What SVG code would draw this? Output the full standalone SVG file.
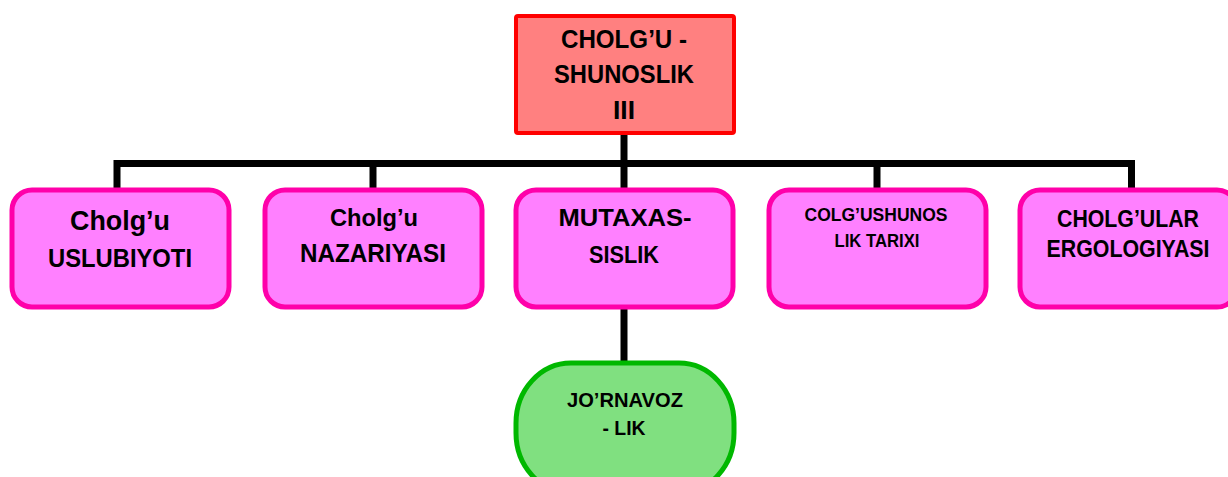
<svg xmlns="http://www.w3.org/2000/svg" width="1228" height="477" viewBox="0 0 1228 477">
<style>
.t{font-family:"Liberation Sans",Arial,sans-serif;font-weight:bold;fill:#000;text-anchor:middle}
.pink{fill:#FF80FF;stroke:#FF00AA;stroke-width:5}
.conn{stroke:#000;stroke-width:7;fill:none;stroke-linecap:butt}
</style>
<rect width="1228" height="477" fill="#fff"/>
<g id="connectors">
<path class="conn" d="M624,135 V189"/>
<path class="conn" d="M117,189 V163.5 H1131.5 V189"/>
<path class="conn" d="M373,163.5 V189"/>
<path class="conn" d="M877,163.5 V189"/>
<path class="conn" d="M624,309 V362"/>
</g>
<g id="root">
<rect x="516" y="16" width="218" height="117" rx="2" fill="#FF8080" stroke="#FF0000" stroke-width="4"/>
<text class="t" x="624" y="48" font-size="26" textLength="126" lengthAdjust="spacingAndGlyphs">CHOLG’U -</text>
<text class="t" x="624" y="83" font-size="26" textLength="140" lengthAdjust="spacingAndGlyphs">SHUNOSLIK</text>
<text class="t" x="624" y="119" font-size="26" textLength="22" lengthAdjust="spacingAndGlyphs">III</text>
</g>
<g id="n1">
<rect class="pink" x="12" y="190" width="217" height="117" rx="20"/>
<text class="t" x="120" y="230" font-size="27" textLength="100" lengthAdjust="spacingAndGlyphs">Cholg’u</text>
<text class="t" x="120" y="267" font-size="26" textLength="144" lengthAdjust="spacingAndGlyphs">USLUBIYOTI</text>
</g>
<g id="n2">
<rect class="pink" x="265" y="190" width="217" height="117" rx="20"/>
<text class="t" x="374" y="226" font-size="24" textLength="88" lengthAdjust="spacingAndGlyphs">Cholg’u</text>
<text class="t" x="373" y="262" font-size="25" textLength="146" lengthAdjust="spacingAndGlyphs">NAZARIYASI</text>
</g>
<g id="n3">
<rect class="pink" x="516" y="190" width="217" height="117" rx="20"/>
<text class="t" x="625" y="226" font-size="24" textLength="133" lengthAdjust="spacingAndGlyphs">MUTAXAS-</text>
<text class="t" x="624" y="263" font-size="24" textLength="70" lengthAdjust="spacingAndGlyphs">SISLIK</text>
</g>
<g id="n4">
<rect class="pink" x="769" y="190" width="217" height="117" rx="20"/>
<text class="t" x="876" y="221" font-size="18" textLength="143" lengthAdjust="spacingAndGlyphs">COLG’USHUNOS</text>
<text class="t" x="877" y="247" font-size="18" textLength="85" lengthAdjust="spacingAndGlyphs">LIK TARIXI</text>
</g>
<g id="n5">
<rect class="pink" x="1020" y="190" width="217" height="117" rx="20"/>
<text class="t" x="1128" y="227" font-size="24" textLength="142" lengthAdjust="spacingAndGlyphs">CHOLG’ULAR</text>
<text class="t" x="1128" y="257" font-size="24" textLength="163" lengthAdjust="spacingAndGlyphs">ERGOLOGIYASI</text>
</g>
<g id="n6">
<rect x="516" y="363" width="218" height="130" rx="55" ry="60" fill="#80E080" stroke="#00B800" stroke-width="5"/>
<text class="t" x="625" y="407" font-size="21" textLength="116" lengthAdjust="spacingAndGlyphs">JO’RNAVOZ</text>
<text class="t" x="624" y="435" font-size="21" textLength="43" lengthAdjust="spacingAndGlyphs">- LIK</text>
</g>
</svg>
